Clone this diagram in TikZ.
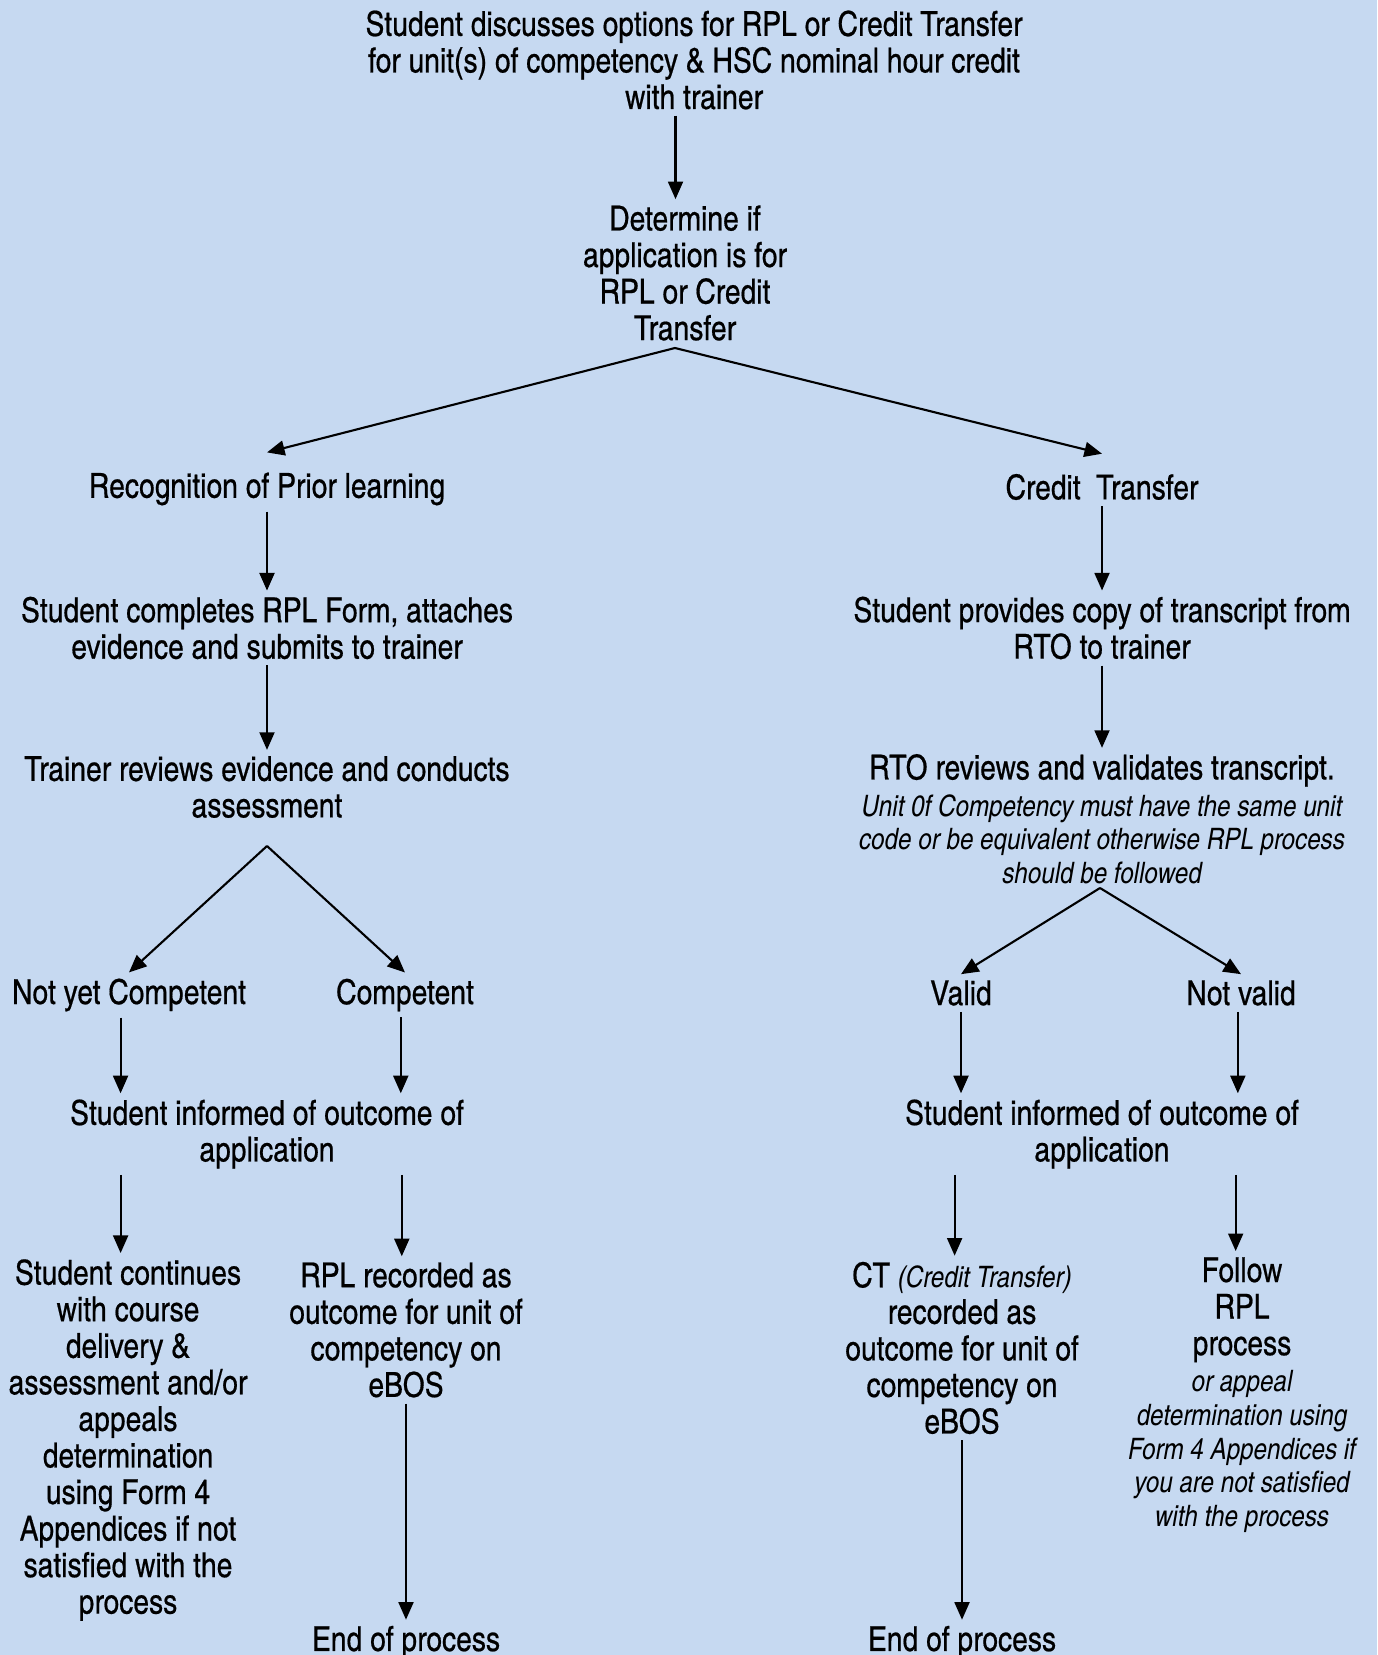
\documentclass[tikz,border=0pt]{standalone}
\usepackage{fontspec}
\setmainfont{texgyreheroscn}[Extension=.otf,UprightFont=*-regular,BoldFont=*-bold,ItalicFont=*-italic,BoldItalicFont=*-bolditalic,UprightFeatures={FakeBold=0.5}]
\usetikzlibrary{arrows.meta}
\definecolor{panel}{RGB}{198,217,241}
\newcommand{\note}[1]{{\fontsize{16.8}{19}\selectfont\itshape #1}}

\begin{document}
\begin{tikzpicture}[x=0.2mm,y=-0.2mm,>={Triangle[length=10pt,width=8.5pt]},
    every node/.style={align=center,font=\fontsize{19.6}{20.8}\selectfont},
    arr/.style={->,line width=1.2pt}]
  \fill[panel] (0,0) rectangle (1377,1655);
  \useasboundingbox (0,0) rectangle (1377,1655);

  % top of the chart
  \node (discuss) at (694,60) {Student discusses options for RPL or Credit Transfer\\for unit(s) of competency \& HSC nominal hour credit\\with trainer};
  \node (determine) at (685,273) {Determine if\\application is for\\RPL or Credit\\Transfer};
  \coordinate (split) at (675,348);

  % RPL side
  \node (rpl) at (267,489) {Recognition of Prior learning};
  \node (rplform) at (267,628) {Student completes RPL Form, attaches\\evidence and submits to trainer};
  \node (assess) at (267,787) {Trainer reviews evidence and conducts\\assessment};
  \coordinate (rplsplit) at (267,846);
  \node (nyc) at (129,995) {Not yet Competent};
  \node (comp) at (405,995) {Competent};
  \node (rplinform) at (267,1134) {Student informed of outcome of\\application};
  \node (continue) at (128,1440) {Student continues\\with course\\delivery \&\\assessment and/or\\appeals\\determination\\using Form 4\\Appendices if not\\satisfied with the\\process};
  \node (rplrec) at (406,1330) {RPL recorded as\\outcome for unit of\\competency on\\eBOS};
  \node (rplend) at (406,1642) {End of process};

  % CT side
  \node (ct) at (1102,487) {Credit\ \ Transfer};
  \node (ctform) at (1102,628) {Student provides copy of transcript from\\RTO to trainer};
  \node (rto) at (1102,819) {RTO reviews and validates transcript.\\\note{Unit 0f Competency must have the same unit}\\[-1.6pt]\note{code or be equivalent otherwise RPL process}\\[-1.6pt]\note{should be followed}};
  \coordinate (ctsplit) at (1100,888);
  \node (valid) at (961,993) {Valid};
  \node (notvalid) at (1241,993) {Not valid};
  \node (ctinform) at (1102,1134) {Student informed of outcome of\\application};
  \node (ctrec) at (962,1348) {CT \note{(Credit Transfer)}\\recorded as\\outcome for unit of\\competency on\\eBOS};
  \node (follow) at (1242,1395) {Follow\\RPL\\process\\\note{or appeal}\\[-1.6pt]\note{determination using}\\[-1.6pt]\note{Form 4 Appendices if}\\[-1.6pt]\note{you are not satisfied}\\[-1.6pt]\note{with the process}};
  \node (ctend) at (962,1642) {End of process};

  \draw[arr] ([xshift=-5.4pt]determine.north |- discuss.south) -- ([xshift=-5.4pt]determine.north);
  \foreach \to in {rpl,ct}
    \draw[arr] (split) -- ([yshift=8pt]\to.north);
  \foreach \from/\to in {rpl/rplform,rplform/assess,ct/ctform,ctform/rto,rplrec/rplend,ctrec/ctend}
    \draw[arr] (\from) -- (\to);
  \foreach \to in {nyc,comp}
    \draw[arr] (rplsplit) -- (\to.north);
  \foreach \to in {valid,notvalid}
    \draw[arr] (ctsplit) -- (\to.north);
  \foreach \from/\to/\dx in {nyc/rplinform/-4.8pt,comp/rplinform/-2.4pt,valid/ctinform/0pt,notvalid/ctinform/-1.8pt}
    \draw[arr] ([xshift=\dx]\from.south) -- ([xshift=\dx]\from.south |- \to.north);
  \foreach \from/\to/\dx in {rplinform/continue/-4.2pt,rplinform/rplrec/-2.4pt,ctinform/ctrec/-4.2pt,ctinform/follow/-3.6pt}
    \draw[arr] ([xshift=\dx]\to.north |- \from.south) -- ([xshift=\dx]\to.north);
\end{tikzpicture}
\end{document}
